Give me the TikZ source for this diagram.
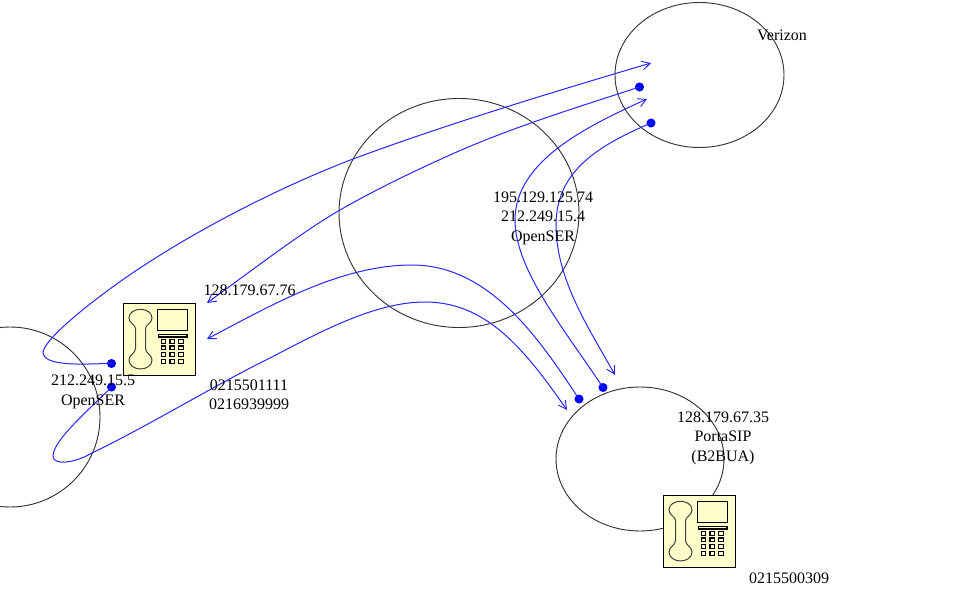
\documentclass[tikz,border=0pt]{standalone}
\usepackage{fontspec}
\setmainfont{Liberation Serif}
\usetikzlibrary{arrows.meta}
\definecolor{phoneyellow}{RGB}{255,255,204}
\tikzset{
  x=0.75pt,y=-0.75pt,
  cloud/.style={draw=black!80,line width=0.7pt},
  flow/.style={draw=blue!85!white,line width=0.75pt},
  flowarrow/.style={flow,-{Straight Barb[length=6pt,width=6.5pt,line width=0.7pt]}},
  dotmark/.style={circle,fill=blue,inner sep=0pt,minimum size=6.8pt},
  lbl/.style={font=\fontsize{12pt}{14.6pt}\selectfont,align=center,inner sep=0pt,text=black},
  phonepart/.style={draw=black,line width=0.85pt},
  pics/phone/.style={code={
    \draw[phonepart,fill=phoneyellow,line width=1pt] (0,0) rectangle (72,72);
    \draw[draw=black!75,line width=0.75pt,fill=phoneyellow]
      (12,25) .. controls (12,21) and (5.5,20) .. (5.5,14.5) .. controls (5.5,9) and (11,5.8) .. (17,5.8)
      .. controls (23,5.8) and (28.5,9) .. (28.5,14.5) .. controls (28.5,20) and (22,21) .. (22,25)
      -- (22,45) .. controls (22,50) and (28.5,51) .. (28.5,56.5) .. controls (28.5,62) and (23,65.5) .. (17,65.5)
      .. controls (11,65.5) and (5.5,62) .. (5.5,56.5) .. controls (5.5,51) and (12,50) .. (12,45) -- cycle;
    \draw[phonepart] (34,6) rectangle (64,27);
    \draw[phonepart] (35,31) rectangle (63.5,33.5);
    \foreach \kx/\kw in {37.8/4.4,46.5/4.4,54.8/5}
      \foreach \ky in {35.8,42.5,48.8,55.8}
        \draw[phonepart] (\kx,\ky) rectangle ++(\kw,3.8);
  }}
}
\begin{document}
\begin{tikzpicture}
\useasboundingbox (0,0) rectangle (963,605);
% clouds
\begin{scope}
\clip (0,0) rectangle (963,605);
\draw[cloud] (459,213) ellipse [x radius=120,y radius=114.5];
\draw[cloud] (699.5,75) ellipse [x radius=84.5,y radius=72.5];
\draw[cloud] (640,459) ellipse [x radius=84,y radius=72];
\draw[cloud] (10,417) ellipse [x radius=90,y radius=90];
\end{scope}
% phones
\pic at (123.5,303.5) {phone};
\pic at (663.5,495.5) {phone};
% dots
\coordinate (tipA) at (651,63);
\coordinate (tipB) at (207,303);
\coordinate (tipC) at (567,410);
\coordinate (tipD) at (207,339);
\coordinate (tipE) at (647,99);
\coordinate (tipF) at (615,375);
\node[dotmark] (d1) at (111.5,363.5) {};
\node[dotmark] (d2) at (111.5,387) {};
\node[dotmark] (d3) at (639.5,87) {};
\node[dotmark] (d4) at (651,123) {};
\node[dotmark] (d5) at (579,399) {};
\node[dotmark] (d6) at (603,387.5) {};
% connectors
\draw[flowarrow] (d1.center) .. controls (90,363.5) and (43,368) .. (43,352)
  .. controls (45,338) and (95,298) .. (137,270)
  .. controls (200,228) and (280,187) .. (353,159)
  .. controls (450,123) and (560,90) .. (tipA);
\draw[flowarrow] (d3.center) .. controls (575,108) and (510,128) .. (450,155)
  .. controls (410,173) and (375,190) .. (340,210)
  .. controls (305,230) and (255,268) .. (tipB);
\draw[flowarrow] (d2.center) .. controls (92,407) and (53,440) .. (53,456)
  .. controls (53,466) and (75,463) .. (92,453)
  .. controls (150,425) and (215,385) .. (270,358)
  .. controls (320,332) and (375,302) .. (425,302)
  .. controls (487,302) and (525,350) .. (tipC);
\draw[flowarrow] (d5.center) .. controls (540,340) and (490,265) .. (412,265)
  .. controls (340,265) and (270,306) .. (tipD);
\draw[flowarrow] (d6.center) .. controls (565,330) and (515,270) .. (515,220)
  .. controls (515,160) and (590,125) .. (tipE);
\draw[flowarrow] (d4.center) .. controls (600,145) and (556,170) .. (556,225)
  .. controls (556,280) and (590,330) .. (tipF);
% labels
\node[lbl] (v) at (782,35) {Verizon};
\node[lbl] (m) at (543,218) {195.129.125.74\\212.249.15.4\\OpenSER};
\node[lbl] (p) at (249.5,290) {128.179.67.76};
\node[lbl] (n1) at (249,394.5) {0215501111\\0216939999};
\node[lbl] (o) at (93,392) {212.249.15.5\\OpenSER};
\node[lbl] (ps) at (723,438) {128.179.67.35\\PortaSIP\\(B2BUA)};
\node[lbl] (n2) at (789,578) {0215500309};
\end{tikzpicture}
\end{document}
